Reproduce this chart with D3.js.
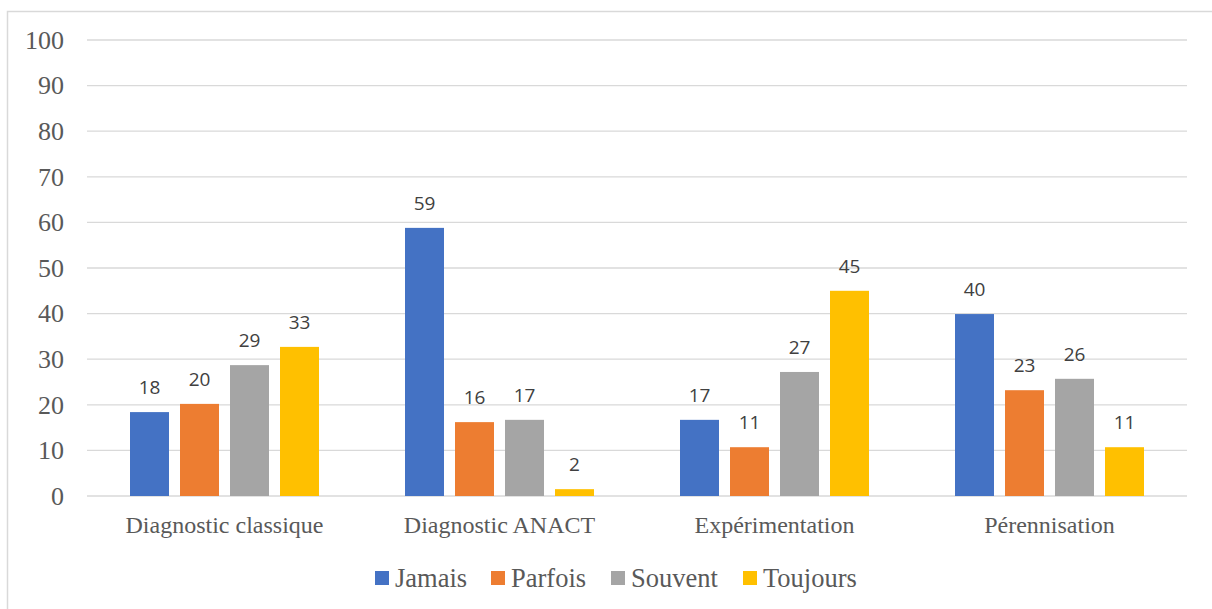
<!DOCTYPE html>
<html>
<head>
<meta charset="utf-8">
<script src="https://cdn.jsdelivr.net/npm/d3@7"></script>
<style>
  body { margin: 0; background: #fff; }
  svg { display: block; }
</style>
</head>
<body>
<div id="chart"></div>
<script>
// categories and series
var categories = ["Diagnostic classique", "Diagnostic ANACT", "Expérimentation", "Pérennisation"];
var seriesNames = ["Jamais", "Parfois", "Souvent", "Toujours"];
var colors = ["#4472c4", "#ed7d31", "#a5a5a5", "#ffc000"];
// values per series, one per category
var jamais = [18.4, 58.8, 16.7, 39.9];
var parfois = [20.2, 16.2, 10.7, 23.2];
var souvent = [28.7, 16.7, 27.2, 25.7];
var toujours = [32.7, 1.5, 45.0, 10.7];
var yTicks = [0, 10, 20, 30, 40, 50, 60, 70, 80, 90, 100];

var series = [jamais, parfois, souvent, toujours];
var serif = "'Liberation Serif', 'DejaVu Serif', 'Times New Roman', serif";

let svg = d3.select("#chart")
            .append("svg")
            .attr("width", 1212)
            .attr("height", 609);

// outer frame
svg.append("rect")
   .attr("x", 7.5).attr("y", 11.5)
   .attr("width", 1215).attr("height", 610)
   .attr("fill", "none")
   .attr("stroke", "#d9d9d9")
   .attr("stroke-width", 1.5);

let x0 = d3.scaleBand()
           .domain(categories)
           .range([87, 1187]);

let x1 = d3.scaleBand()
           .domain(seriesNames)
           .range([43, 275 - 43])
           .paddingInner(0.22);

let y = d3.scaleLinear()
          .domain([0, 100])
          .range([496, 40]);

// gridlines
svg.append("g")
   .selectAll("line")
   .data(yTicks)
   .enter()
   .append("line")
   .attr("x1", 87).attr("x2", 1187)
   .attr("y1", d => y(d)).attr("y2", d => y(d))
   .attr("stroke", "#d9d9d9")
   .attr("stroke-width", 1.3);

// y tick labels
svg.append("g")
   .selectAll("text")
   .data(yTicks)
   .enter()
   .append("text")
   .attr("x", 64)
   .attr("y", d => y(d))
   .attr("dy", "0.34em")
   .attr("text-anchor", "end")
   .style("font-family", serif)
   .style("font-size", "26px")
   .style("fill", "#595959")
   .text(d => d);

// bars
let groups = svg.append("g")
   .selectAll("g")
   .data(categories)
   .enter()
   .append("g")
   .attr("transform", d => "translate(" + x0(d) + ",0)");

groups.selectAll("rect")
   .data((c, i) => seriesNames.map((s, j) => ({s: s, v: series[j][i], c: colors[j]})))
   .enter()
   .append("rect")
   .attr("x", d => x1(d.s))
   .attr("y", d => y(d.v))
   .attr("width", x1.bandwidth())
   .attr("height", d => y(0) - y(d.v))
   .attr("fill", d => d.c);

groups.selectAll("text")
   .data((c, i) => seriesNames.map((s, j) => ({s: s, v: series[j][i]})))
   .enter()
   .append("text")
   .attr("x", d => x1(d.s) + x1.bandwidth() / 2)
   .attr("y", d => y(d.v) - 18)
   .attr("text-anchor", "middle")
   .style("font-family", "'Open Sans', 'Liberation Sans', sans-serif")
   .style("font-size", "19px")
   .style("fill", "#404040")
   .text(d => Math.round(d.v));

// category labels
svg.append("g")
   .selectAll("text")
   .data(categories)
   .enter()
   .append("text")
   .attr("x", d => x0(d) + x0.bandwidth() / 2)
   .attr("y", 533)
   .attr("text-anchor", "middle")
   .style("font-family", serif)
   .style("font-size", "24px")
   .style("fill", "#595959")
   .text(d => d);

// legend
let legendX = [375, 491, 611, 743];
let legend = svg.append("g")
   .selectAll("g")
   .data(seriesNames)
   .enter()
   .append("g")
   .attr("transform", (d, i) => "translate(" + legendX[i] + ",571)");

legend.append("rect")
   .attr("width", 14).attr("height", 14)
   .attr("fill", (d, i) => colors[i]);

legend.append("text")
   .attr("x", 20)
   .attr("y", 16)
   .style("font-family", serif)
   .style("font-size", "26.5px")
   .style("fill", "#595959")
   .text(d => d);
</script>
</body>
</html>
